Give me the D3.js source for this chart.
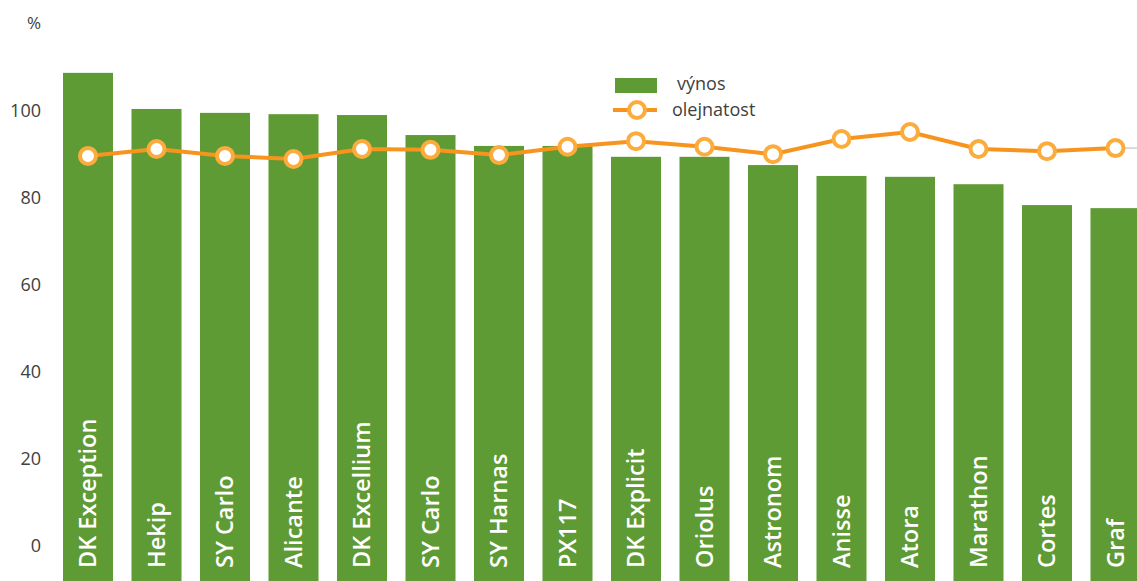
<!DOCTYPE html>
<html>
<head>
<meta charset="utf-8">
<script src="https://cdn.jsdelivr.net/npm/d3@7"></script>
<style>
  html, body { margin: 0; padding: 0; background: #fff; overflow: hidden; }
  svg { display: block; font-family: "Open Sans", "Noto Sans", sans-serif; }
</style>
</head>
<body>
<svg id="chart" width="1137" height="581"></svg>
<script>
const categories = ["DK Exception","Hekip","SY Carlo","Alicante","DK Excellium","SY Carlo","SY Harnas","PX117","DK Explicit","Oriolus","Astronom","Anisse","Atora","Marathon","Cortes","Graf"];
const vynos = [109, 100.7, 99.8, 99.5, 99.3, 94.7, 92.2, 92.2, 89.7, 89.7, 87.8, 85.3, 85.1, 83.4, 78.6, 77.9];
const olejnatost = [89.9, 91.5, 89.9, 89.2, 91.5, 91.3, 90.1, 92.0, 93.3, 92.0, 90.3, 93.8, 95.4, 91.5, 91.0, 91.7];
const yTicks = [0, 20, 40, 60, 80, 100];
const seriesNames = ["výnos", "olejnatost"];

const W = 1137, H = 581;
const svg = d3.select("#chart");
const green = "#5f9b34", lineCol = "#f7941d", markerCol = "#fbac3c", textCol = "#404040";

const x = d3.scaleBand().domain(d3.range(categories.length)).range([53.75, 1149.75]).paddingInner(0.27).paddingOuter(0.135);
const y = d3.scaleLinear().domain([0, 100]).range([547, 112]);
const yBottom = y.invert(H + 2);

// y axis
const yAxis = d3.axisLeft(y).tickValues(yTicks).tickSize(0).tickPadding(0);
const gy = svg.append("g").attr("transform", "translate(41,0)").call(yAxis);
gy.select(".domain").remove();
gy.selectAll("text").attr("font-size", 18).attr("fill", textCol).attr("font-family", "'Open Sans', sans-serif").attr("dy", "0.25em");
svg.append("text").attr("x", 41).attr("y", 23).attr("dy", "0.35em").attr("text-anchor", "end")
  .attr("font-size", 17).attr("fill", textCol).text("%");

// bars
svg.append("g").selectAll("rect").data(vynos).join("rect")
  .attr("x", (d, i) => x(i)).attr("width", x.bandwidth())
  .attr("y", d => y(d)).attr("height", d => y(yBottom) - y(d))
  .attr("fill", green);

// bar labels
svg.append("g").selectAll("text").data(categories).join("text")
  .attr("transform", (d, i) => `translate(${x(i) + x.bandwidth() / 2 + 8},${y(yBottom) - 15}) rotate(-90)`)
  .attr("text-anchor", "start").attr("font-size", 23.5).attr("font-weight", 600)
  .attr("fill", "#fff").text(d => d);

// grey stub after last point
const lastI = olejnatost.length - 1;
svg.append("line")
  .attr("x1", x(lastI) + x.bandwidth() / 2).attr("x2", W)
  .attr("y1", y(olejnatost[lastI])).attr("y2", y(olejnatost[lastI]))
  .attr("stroke", "#d9d9d9").attr("stroke-width", 2);

// line
const line = d3.line().x((d, i) => x(i) + x.bandwidth() / 2).y(d => y(d));
svg.append("path").datum(olejnatost).attr("d", line)
  .attr("fill", "none").attr("stroke", lineCol).attr("stroke-width", 4);
svg.append("g").selectAll("circle").data(olejnatost).join("circle")
  .attr("cx", (d, i) => x(i) + x.bandwidth() / 2).attr("cy", d => y(d)).attr("r", 8)
  .attr("fill", "#fff").attr("stroke", markerCol).attr("stroke-width", 4);

// legend
const lg = svg.append("g");
lg.append("rect").attr("x", 615).attr("y", 78).attr("width", 42).attr("height", 15).attr("fill", green);
lg.append("text").attr("x", 677).attr("y", 84).attr("dy", "0.35em").attr("font-size", 18).attr("fill", textCol).text(seriesNames[0]);
lg.append("line").attr("x1", 613).attr("x2", 657).attr("y1", 110).attr("y2", 110).attr("stroke", lineCol).attr("stroke-width", 4);
lg.append("circle").attr("cx", 637).attr("cy", 110).attr("r", 8).attr("fill", "#fff").attr("stroke", markerCol).attr("stroke-width", 4);
lg.append("text").attr("x", 672).attr("y", 110).attr("dy", "0.35em").attr("font-size", 18).attr("fill", textCol).text(seriesNames[1]);
</script>
</body>
</html>
